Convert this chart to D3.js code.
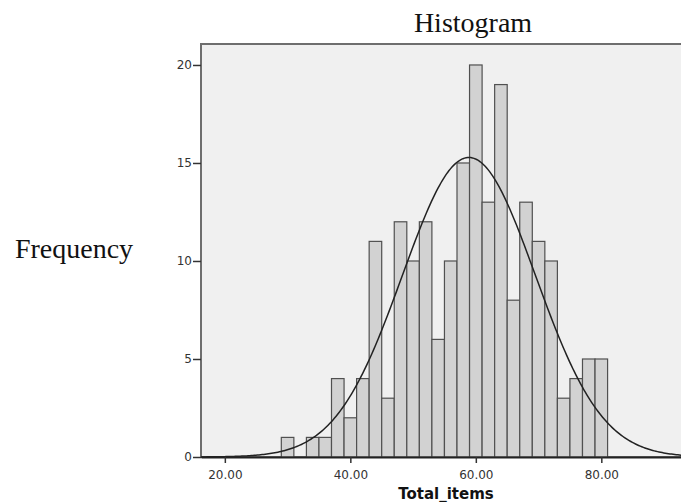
<!DOCTYPE html>
<html>
<head>
<meta charset="utf-8">
<script src="https://cdn.jsdelivr.net/npm/d3@7"></script>
<style>
	body { margin: 0; background: #fff; }
	svg { display: block; }
</style>
</head>
<body>
<svg id="chart"></svg>
<script>
// histogram data (bin lower edge, bin width 2)
const binLo = [29, 31, 33, 35, 37, 39, 41, 43, 45, 47, 49, 51, 53, 55, 57, 59, 61, 63, 65, 67, 69, 71, 73, 75, 77, 79];
const counts = [1, 0, 1, 1, 4, 2, 4, 11, 3, 12, 10, 12, 6, 10, 15, 20, 13, 19, 8, 13, 11, 10, 3, 4, 5, 5];
const binWidth = 2;
const xTicks = [20, 40, 60, 80];
const yTicks = [0, 5, 10, 15, 20];

// normal curve parameters (SPSS style overlay)
const curveMean = 58.9;
const curveSd = 10.6;

const width = 681,
	height = 502;
const plot = { left: 201, top: 44, right: 690, bottom: 457 };

const svg = d3.select("#chart").attr("width", width).attr("height", height);

const x_scale = d3.scaleLinear().domain([16.2, 92.7]).range([plot.left, 681]);
const y_scale = d3.scaleLinear().domain([0, 21.07]).range([plot.bottom, plot.top]);

// plot background + frame
svg
	.append("rect")
	.attr("x", plot.left)
	.attr("y", plot.top)
	.attr("width", plot.right - plot.left)
	.attr("height", plot.bottom - plot.top)
	.attr("fill", "#f0f0f0")
	.attr("stroke", "#6e6e6e")
	.attr("stroke-width", 2);

// bars
svg
	.selectAll("rect.bar")
	.data(counts.map((c, i) => ({ lo: binLo[i], count: c })))
	.join("rect")
	.attr("class", "bar")
	.attr("x", (d) => x_scale(d.lo))
	.attr("y", (d) => y_scale(d.count))
	.attr("width", (d) => x_scale(d.lo + binWidth) - x_scale(d.lo))
	.attr("height", (d) => y_scale(0) - y_scale(d.count))
	.attr("fill", "#d2d2d2")
	.attr("stroke", "#505050")
	.attr("stroke-width", 1.2);

// normal curve
const n = d3.sum(counts);
const dens = (v) =>
	((n * binWidth) / (curveSd * Math.sqrt(2 * Math.PI))) *
	Math.exp(-0.5 * ((v - curveMean) / curveSd) ** 2);
const curvePts = d3.range(16.2, 93, 0.25).map((v) => [v, dens(v)]);
svg
	.append("path")
	.datum(curvePts)
	.attr("fill", "none")
	.attr("stroke", "#222")
	.attr("stroke-width", 1.5)
	.attr("d", d3.line().x((d) => x_scale(d[0])).y((d) => y_scale(d[1])));

// x axis
const x_axis = d3.axisBottom(x_scale).tickValues(xTicks).tickFormat(d3.format(".2f")).tickSize(6).tickSizeOuter(0);
const gx = svg.append("g").attr("transform", `translate(0,${plot.bottom})`).call(x_axis);
gx.select(".domain").attr("stroke", "#222").attr("stroke-width", 2);
gx.selectAll(".tick line").attr("stroke", "#333").attr("stroke-width", 1.5);
gx.selectAll(".tick text")
	.attr("dy", "1.05em")
	.style("font-family", "DejaVu Sans")
	.style("font-size", "12px")
	.attr("fill", "#333");

// y axis
const y_axis = d3.axisLeft(y_scale).tickValues(yTicks).tickSize(8).tickSizeOuter(0);
const gy = svg.append("g").attr("transform", `translate(${plot.left},0)`).call(y_axis);
gy.select(".domain").remove();
gy.selectAll(".tick line").attr("stroke", "#333").attr("stroke-width", 1.5);
gy.selectAll(".tick text")
	.attr("x", -9)
	.style("font-family", "DejaVu Sans")
	.style("font-size", "12px")
	.attr("fill", "#333");

// titles
svg
	.append("text")
	.attr("x", 473)
	.attr("y", 32)
	.attr("text-anchor", "middle")
	.style("font-family", "Liberation Serif")
	.style("font-size", "28px")
	.attr("fill", "#111")
	.text("Histogram");

svg
	.append("text")
	.attr("x", 74)
	.attr("y", 258)
	.attr("text-anchor", "middle")
	.style("font-family", "Liberation Serif")
	.style("font-size", "28px")
	.attr("fill", "#111")
	.text("Frequency");

svg
	.append("text")
	.attr("x", 446)
	.attr("y", 499)
	.attr("text-anchor", "middle")
	.style("font-family", "DejaVu Sans")
	.style("font-weight", "bold")
	.style("font-size", "15px")
	.attr("fill", "#111")
	.text("Total_items");
</script>
</body>
</html>
